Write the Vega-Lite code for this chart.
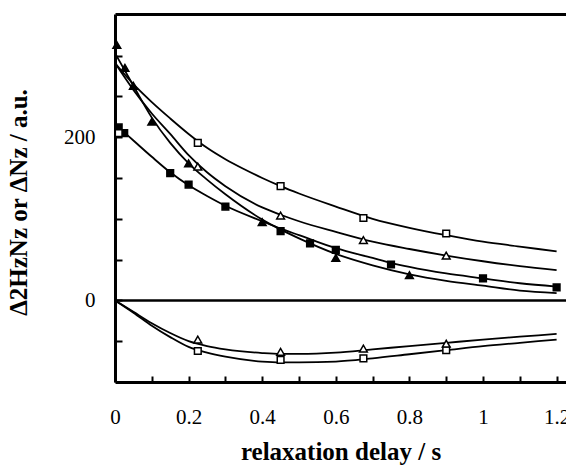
{
  "$schema": "https://vega.github.io/schema/vega-lite/v6.json",
  "autosize": "none",
  "width": 451,
  "height": 368,
  "padding": {"left": 115, "top": 14, "right": 0, "bottom": 84},
  "background": "white",
  "config": {
    "view": {"stroke": null},
    "font": "Liberation Serif"
  },
  "datasets": {
    "curves": [
      {"curve": "os_up", "x": 0, "y": 291}, {"curve": "os_up", "x": 0.05, "y": 265}, {"curve": "os_up", "x": 0.1, "y": 243}, {"curve": "os_up", "x": 0.15, "y": 223}, {"curve": "os_up", "x": 0.2, "y": 204}, {"curve": "os_up", "x": 0.25, "y": 187}, {"curve": "os_up", "x": 0.3, "y": 173}, {"curve": "os_up", "x": 0.35, "y": 161}, {"curve": "os_up", "x": 0.4, "y": 150}, {"curve": "os_up", "x": 0.45, "y": 140}, {"curve": "os_up", "x": 0.5, "y": 131}, {"curve": "os_up", "x": 0.6, "y": 115}, {"curve": "os_up", "x": 0.7, "y": 100}, {"curve": "os_up", "x": 0.8, "y": 89}, {"curve": "os_up", "x": 0.9, "y": 80}, {"curve": "os_up", "x": 1.0, "y": 72}, {"curve": "os_up", "x": 1.1, "y": 66}, {"curve": "os_up", "x": 1.2, "y": 60},
      {"curve": "ot_up", "x": 0, "y": 291}, {"curve": "ot_up", "x": 0.05, "y": 258}, {"curve": "ot_up", "x": 0.1, "y": 229}, {"curve": "ot_up", "x": 0.15, "y": 204}, {"curve": "ot_up", "x": 0.2, "y": 178}, {"curve": "ot_up", "x": 0.25, "y": 157}, {"curve": "ot_up", "x": 0.3, "y": 140}, {"curve": "ot_up", "x": 0.4, "y": 114}, {"curve": "ot_up", "x": 0.45, "y": 105}, {"curve": "ot_up", "x": 0.5, "y": 97}, {"curve": "ot_up", "x": 0.6, "y": 84}, {"curve": "ot_up", "x": 0.7, "y": 72}, {"curve": "ot_up", "x": 0.8, "y": 63}, {"curve": "ot_up", "x": 0.9, "y": 55}, {"curve": "ot_up", "x": 1.0, "y": 48}, {"curve": "ot_up", "x": 1.1, "y": 42}, {"curve": "ot_up", "x": 1.2, "y": 37},
      {"curve": "ft", "x": 0, "y": 303}, {"curve": "ft", "x": 0.05, "y": 263}, {"curve": "ft", "x": 0.1, "y": 224}, {"curve": "ft", "x": 0.15, "y": 193}, {"curve": "ft", "x": 0.2, "y": 168}, {"curve": "ft", "x": 0.25, "y": 148}, {"curve": "ft", "x": 0.3, "y": 130}, {"curve": "ft", "x": 0.4, "y": 99}, {"curve": "ft", "x": 0.5, "y": 76}, {"curve": "ft", "x": 0.6, "y": 57}, {"curve": "ft", "x": 0.7, "y": 43}, {"curve": "ft", "x": 0.8, "y": 32}, {"curve": "ft", "x": 0.9, "y": 24}, {"curve": "ft", "x": 1.0, "y": 18}, {"curve": "ft", "x": 1.1, "y": 12}, {"curve": "ft", "x": 1.2, "y": 9},
      {"curve": "fs", "x": 0.025, "y": 206}, {"curve": "fs", "x": 0.05, "y": 196}, {"curve": "fs", "x": 0.1, "y": 176}, {"curve": "fs", "x": 0.15, "y": 157}, {"curve": "fs", "x": 0.2, "y": 141}, {"curve": "fs", "x": 0.25, "y": 128}, {"curve": "fs", "x": 0.3, "y": 116}, {"curve": "fs", "x": 0.4, "y": 97}, {"curve": "fs", "x": 0.45, "y": 88}, {"curve": "fs", "x": 0.5, "y": 80}, {"curve": "fs", "x": 0.6, "y": 64}, {"curve": "fs", "x": 0.7, "y": 52}, {"curve": "fs", "x": 0.75, "y": 46}, {"curve": "fs", "x": 0.8, "y": 41}, {"curve": "fs", "x": 0.9, "y": 33}, {"curve": "fs", "x": 1.0, "y": 27}, {"curve": "fs", "x": 1.1, "y": 21}, {"curve": "fs", "x": 1.2, "y": 17},
      {"curve": "os_lo", "x": 0, "y": 0}, {"curve": "os_lo", "x": 0.05, "y": -15}, {"curve": "os_lo", "x": 0.1, "y": -31}, {"curve": "os_lo", "x": 0.15, "y": -45}, {"curve": "os_lo", "x": 0.2, "y": -57}, {"curve": "os_lo", "x": 0.25, "y": -64}, {"curve": "os_lo", "x": 0.3, "y": -69}, {"curve": "os_lo", "x": 0.4, "y": -75}, {"curve": "os_lo", "x": 0.45, "y": -76}, {"curve": "os_lo", "x": 0.5, "y": -76}, {"curve": "os_lo", "x": 0.6, "y": -75}, {"curve": "os_lo", "x": 0.7, "y": -71}, {"curve": "os_lo", "x": 0.8, "y": -66}, {"curve": "os_lo", "x": 0.9, "y": -61}, {"curve": "os_lo", "x": 1.0, "y": -56}, {"curve": "os_lo", "x": 1.1, "y": -52}, {"curve": "os_lo", "x": 1.2, "y": -48},
      {"curve": "ot_lo", "x": 0, "y": 0}, {"curve": "ot_lo", "x": 0.05, "y": -14}, {"curve": "ot_lo", "x": 0.1, "y": -28}, {"curve": "ot_lo", "x": 0.15, "y": -40}, {"curve": "ot_lo", "x": 0.2, "y": -50}, {"curve": "ot_lo", "x": 0.25, "y": -56}, {"curve": "ot_lo", "x": 0.3, "y": -60}, {"curve": "ot_lo", "x": 0.4, "y": -64.5}, {"curve": "ot_lo", "x": 0.45, "y": -65.5}, {"curve": "ot_lo", "x": 0.5, "y": -65.5}, {"curve": "ot_lo", "x": 0.6, "y": -64}, {"curve": "ot_lo", "x": 0.7, "y": -60}, {"curve": "ot_lo", "x": 0.8, "y": -56}, {"curve": "ot_lo", "x": 0.9, "y": -52}, {"curve": "ot_lo", "x": 1.0, "y": -48}, {"curve": "ot_lo", "x": 1.1, "y": -44.5}, {"curve": "ot_lo", "x": 1.2, "y": -41}
    ],
    "points": [
      {"marker": "tri", "fill": "filled", "x": 0.005, "y": 313}, {"marker": "tri", "fill": "filled", "x": 0.027, "y": 285}, {"marker": "tri", "fill": "filled", "x": 0.05, "y": 263}, {"marker": "tri", "fill": "filled", "x": 0.1, "y": 219}, {"marker": "tri", "fill": "filled", "x": 0.2, "y": 168}, {"marker": "tri", "fill": "filled", "x": 0.4, "y": 96}, {"marker": "tri", "fill": "filled", "x": 0.6, "y": 52}, {"marker": "tri", "fill": "filled", "x": 0.8, "y": 31},
      {"marker": "sq", "fill": "filled", "x": 0.01, "y": 212}, {"marker": "sq", "fill": "filled", "x": 0.025, "y": 205}, {"marker": "sq", "fill": "filled", "x": 0.15, "y": 156}, {"marker": "sq", "fill": "filled", "x": 0.2, "y": 142}, {"marker": "sq", "fill": "filled", "x": 0.3, "y": 115}, {"marker": "sq", "fill": "filled", "x": 0.45, "y": 85}, {"marker": "sq", "fill": "filled", "x": 0.53, "y": 70}, {"marker": "sq", "fill": "filled", "x": 0.6, "y": 62}, {"marker": "sq", "fill": "filled", "x": 0.75, "y": 44}, {"marker": "sq", "fill": "filled", "x": 1.0, "y": 27}, {"marker": "sq", "fill": "filled", "x": 1.2, "y": 16},
      {"marker": "sq", "fill": "open", "x": 0.01, "y": 205}, {"marker": "sq", "fill": "open", "x": 0.225, "y": 193}, {"marker": "sq", "fill": "open", "x": 0.45, "y": 140}, {"marker": "sq", "fill": "open", "x": 0.675, "y": 101}, {"marker": "sq", "fill": "open", "x": 0.9, "y": 82}, {"marker": "sq", "fill": "open", "x": 0.225, "y": -62}, {"marker": "sq", "fill": "open", "x": 0.45, "y": -73}, {"marker": "sq", "fill": "open", "x": 0.675, "y": -71}, {"marker": "sq", "fill": "open", "x": 0.9, "y": -61},
      {"marker": "tri", "fill": "open", "x": 0.225, "y": 164}, {"marker": "tri", "fill": "open", "x": 0.45, "y": 104}, {"marker": "tri", "fill": "open", "x": 0.675, "y": 74}, {"marker": "tri", "fill": "open", "x": 0.9, "y": 55}, {"marker": "tri", "fill": "open", "x": 0.225, "y": -48}, {"marker": "tri", "fill": "open", "x": 0.45, "y": -63}, {"marker": "tri", "fill": "open", "x": 0.675, "y": -59}, {"marker": "tri", "fill": "open", "x": 0.9, "y": -53}
    ]
  },
  "resolve": {"axis": {"x": "independent", "y": "independent"}},
  "layer": [
    {
      "data": {"name": "curves"},
      "mark": {"type": "line", "interpolate": "monotone", "color": "black", "strokeWidth": 1.8},
      "encoding": {
        "x": {
          "field": "x", "type": "quantitative",
          "scale": {"domain": [0, 1.2255], "nice": false, "zero": false},
          "axis": {
            "title": "relaxation delay / s",
            "values": [0, 0.1, 0.2, 0.3, 0.4, 0.5, 0.6, 0.7, 0.8, 0.9, 1.0, 1.1, 1.2],
            "format": "~g",
            "labelExpr": "round(datum.value*10) % 2 == 0 ? datum.label : ''",
            "grid": false,
            "domainColor": "black", "domainWidth": 3,
            "tickColor": "black", "tickWidth": 2, "tickSize": -6,
            "labelFont": "Liberation Serif", "labelFontSize": 21, "labelColor": "black", "labelPadding": 30,
            "labelFlush": false,
            "titleFont": "Liberation Serif", "titleFontSize": 25, "titleFontWeight": "bold", "titleColor": "black", "titlePadding": 12
          }
        },
        "y": {
          "field": "y", "type": "quantitative",
          "scale": {"domain": [-100, 351], "nice": false, "zero": false},
          "axis": {
            "title": "Δ2HzNz or ΔNz / a.u.",
            "values": [-50, 0, 50, 100, 150, 200, 250, 300],
            "labelExpr": "datum.value == 0 || datum.value == 200 ? datum.label : ''",
            "grid": false,
            "domainColor": "black", "domainWidth": 3,
            "tickColor": "black", "tickWidth": 2, "tickSize": -7,
            "labelFont": "Liberation Serif", "labelFontSize": 21, "labelColor": "black", "labelPadding": 27,
            "titleFont": "Liberation Serif", "titleFontSize": 25, "titleFontWeight": "bold", "titleColor": "black",
            "titleX": -84, "titleY": 188
          }
        },
        "detail": {"field": "curve"}
      }
    },
    {
      "data": {"name": "points"},
      "mark": {"type": "point", "filled": false, "stroke": "black", "strokeWidth": 1.5, "opacity": 1},
      "encoding": {
        "x": {
          "field": "x", "type": "quantitative",
          "scale": {"domain": [0, 1.2255], "nice": false, "zero": false},
          "axis": {"orient": "top", "title": null, "labels": false, "ticks": false, "grid": false, "domainColor": "black", "domainWidth": 3}
        },
        "y": {
          "field": "y", "type": "quantitative",
          "scale": {"domain": [-100, 351], "nice": false, "zero": false},
          "axis": null
        },
        "shape": {"field": "marker", "type": "nominal", "scale": {"domain": ["sq", "tri"], "range": ["square", "triangle-up"]}, "legend": null},
        "fill": {"field": "fill", "type": "nominal", "scale": {"domain": ["filled", "open"], "range": ["black", "white"]}, "legend": null},
        "size": {"field": "marker", "type": "nominal", "scale": {"domain": ["sq", "tri"], "range": [45, 60]}, "legend": null}
      }
    },
    {
      "data": {"values": [{"z": 0}]},
      "mark": {"type": "rule", "color": "black", "strokeWidth": 2.5},
      "encoding": {
        "y": {"field": "z", "type": "quantitative", "scale": {"domain": [-100, 351], "nice": false, "zero": false}, "axis": null}
      }
    }
  ]
}
